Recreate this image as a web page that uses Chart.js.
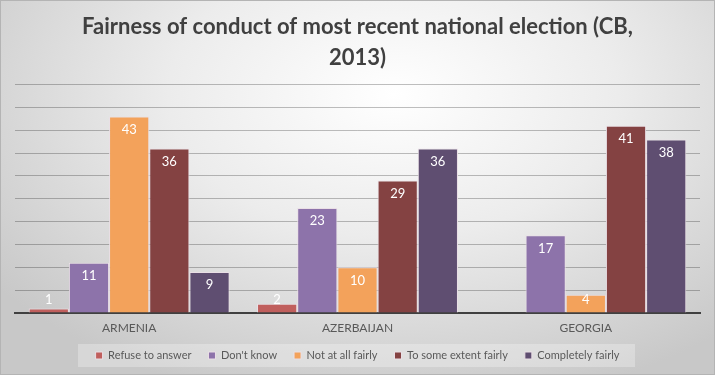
<!DOCTYPE html>
<html>
<head>
<meta charset="utf-8">
<script src="https://cdn.jsdelivr.net/npm/chart.js@4"></script>
<style>
  html, body { margin: 0; padding: 0; }
  #wrap {
    width: 715px; height: 375px; box-sizing: border-box;
    border: 1px solid #b4b4b4;
    background: radial-gradient(ellipse 70% 85% at 55% 25%, #ffffff 0%, #ececec 45%, #c8c8c8 100%);
  }
</style>
</head>
<body>
<div id="wrap"><canvas id="electionChart" width="713" height="373"></canvas></div>
<script>
const countries = ['ARMENIA', 'AZERBAIJAN', 'GEORGIA'];
const refuseToAnswer = [1, 2, 0];
const dontKnow = [11, 23, 17];
const notAtAllFairly = [43, 10, 4];
const toSomeExtentFairly = [36, 29, 41];
const completelyFairly = [9, 36, 38];

// keep the legend compact vertically while keeping wide gaps between items
const legendFit = {
    id: 'legendFit',
    afterInit(chart) {
        const lg = chart.legend;
        const orig = lg.fit;
        lg.fit = function () {
            orig.call(this);
            this.height = 33;
        };
    },
    beforeDraw(chart) {
        const lg = chart.legend;
        const ctx = chart.ctx;
        const w = 557;
        ctx.save();
        ctx.fillStyle = 'rgba(255,255,255,0.28)';
        ctx.fillRect((chart.width - w) / 2 - 1, lg.top + 11, w, 23);
        ctx.restore();
    }
};

const valueLabels = {
    id: 'valueLabels',
    afterDatasetsDraw(chart) {
        const ctx = chart.ctx;
        ctx.save();
        ctx.fillStyle = '#ffffff';
        ctx.font = '13px Lato';
        ctx.textAlign = 'center';
        ctx.textBaseline = 'middle';
        chart.data.datasets.forEach((ds, i) => {
            chart.getDatasetMeta(i).data.forEach((bar, j) => {
                const v = ds.data[j];
                if (!v) return;
                const y = Math.min(bar.y + 13, bar.base - 13);
                ctx.fillText(String(v), bar.x, y);
            });
        });
        ctx.restore();
    }
};

const ctx = document.getElementById('electionChart').getContext('2d');
new Chart(ctx, {
    type: 'bar',
    data: {
        labels: countries,
        datasets: [
            { label: 'Refuse to answer', data: refuseToAnswer, backgroundColor: '#c05f5d' },
            { label: "Don't know", data: dontKnow, backgroundColor: '#8d73aa' },
            { label: 'Not at all fairly', data: notAtAllFairly, backgroundColor: '#f3a25b' },
            { label: 'To some extent fairly', data: toSomeExtentFairly, backgroundColor: '#844242' },
            { label: 'Completely fairly', data: completelyFairly, backgroundColor: '#5f4e71' }
        ].map(d => Object.assign(d, { borderColor: '#eadfe6', borderWidth: 1 }))
    },
    options: {
        responsive: false,
        animation: false,
        layout: { padding: { left: 14, right: 14, top: 0, bottom: 8 } },
        datasets: { bar: { categoryPercentage: 0.88, barPercentage: 1 } },
        plugins: {
            title: {
                display: true,
                text: ['Fairness of conduct of most recent national election (CB,', '2013)'],
                color: '#404040',
                font: { family: 'Lato', size: 22, weight: 'bold', lineHeight: 1.4 },
                padding: { top: 11, bottom: 11 }
            },
            legend: {
                position: 'bottom',
                labels: {
                    boxWidth: 7, boxHeight: 7, padding: 17,
                    color: '#595959',
                    font: { family: 'Lato', size: 11 }
                }
            },
            tooltip: { enabled: false }
        },
        scales: {
            x: {
                grid: { display: false, drawTicks: false },
                border: { display: true, color: '#404040', width: 2 },
                ticks: { color: '#595959', font: { family: 'Lato', size: 12 }, padding: 8 },
                afterFit(scale) { scale.height = 20; }
            },
            y: {
                min: 0, max: 50,
                ticks: { display: false, stepSize: 5 },
                border: { display: false },
                grid: { color: 'rgba(0,0,0,0.25)', drawTicks: false }
            }
        }
    },
    plugins: [legendFit, valueLabels]
});
</script>
</body>
</html>
